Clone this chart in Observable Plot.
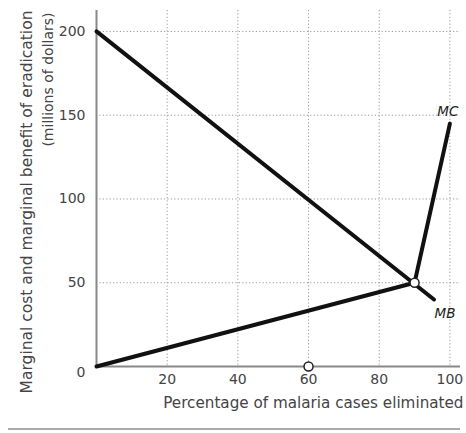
<!DOCTYPE html>
<html>
<head>
<meta charset="utf-8">
<script src="https://cdn.jsdelivr.net/npm/d3@7"></script>
<script src="https://cdn.jsdelivr.net/npm/@observablehq/plot@0.6"></script>
<style>
  body { margin: 0; background: #fff; font-family: "DejaVu Sans", sans-serif; }
  #sep { margin: 2px 0 0 8px; width: 452px; height: 2px; background: #aaa; }
</style>
</head>
<body>
<div id="chart"></div>
<div id="sep"></div>
<script>
// Data
const xTicks = [20, 40, 60, 80, 100];
const yTicks = [0, 50, 100, 150, 200];
const mbX = [0, 95.5];
const mbY = [200, 40];
const mcX = [0, 90, 100];
const mcY = [0, 50, 145];
const pointX = [90, 60];
const pointY = [50, 0];
const yLabel1 = "Marginal cost and marginal benefit of eradication";
const yLabel2 = "(millions of dollars)";
const xLabel = "Percentage of malaria cases eliminated";

const mb = mbX.map((x, i) => ({x, y: mbY[i]}));
const mc = mcX.map((x, i) => ({x, y: mcY[i]}));
const pts = pointX.map((x, i) => ({x, y: pointY[i]}));

const gridStyle = {stroke: "#999", strokeOpacity: 1, strokeDasharray: "1.2,2.2", strokeWidth: 1};
const font = "'DejaVu Sans', sans-serif";

const chart = Plot.plot({
  width: 466,
  height: 426,
  marginLeft: 96,
  marginRight: 6,
  marginTop: 10,
  marginBottom: 60,
  style: {fontFamily: font, color: "#333", background: "#fff"},
  x: {domain: [0, 103], axis: null},
  y: {domain: [0, 212.5], axis: null},
  marks: [
    Plot.gridY(yTicks.filter(d => d > 0), gridStyle),
    Plot.gridX(xTicks, gridStyle),
    Plot.ruleX([0], {stroke: "#888", strokeWidth: 2}),
    Plot.ruleY([0], {stroke: "#888", strokeWidth: 2}),
    Plot.axisY(yTicks.filter(d => d > 0), {label: null, tickSize: 0, tickPadding: 11, fontSize: 14, fill: "#444"}),
    Plot.axisY([0], {label: null, tickSize: 0, tickPadding: 11, dy: 6, fontSize: 14, fill: "#444"}),
    Plot.axisX(xTicks, {label: null, tickSize: 0, tickPadding: 8, fontSize: 14, fill: "#444"}),
    Plot.line(mb, {x: "x", y: "y", stroke: "#111", strokeWidth: 4}),
    Plot.line(mc, {x: "x", y: "y", stroke: "#111", strokeWidth: 4}),
    Plot.dot(pts, {x: "x", y: "y", r: 4.5, fill: "#fff", stroke: "#222", strokeWidth: 1.5}),
    Plot.text([mc[mc.length - 1]], {x: "x", y: "y", text: () => "MC", dx: -2, dy: -12, fontSize: 13.5, fontStyle: "italic", fill: "#222"}),
    Plot.text([mb[mb.length - 1]], {x: "x", y: "y", text: () => "MB", dx: 11, dy: 14, fontSize: 13.5, fontStyle: "italic", fill: "#222"}),
    Plot.text([yLabel1], {frameAnchor: "top-left", dx: -76, dy: 0, rotate: -90, textAnchor: "end", fontSize: 15.5, fill: "#444"}),
    Plot.text([yLabel2], {frameAnchor: "top-left", dx: -53, dy: 2, rotate: -90, textAnchor: "end", fontSize: 14, fill: "#444"}),
    Plot.text([xLabel], {frameAnchor: "bottom-right", dx: 3, dy: 41, textAnchor: "end", fontSize: 15.2, fill: "#444"})
  ]
});
document.getElementById("chart").append(chart);
</script>
</body>
</html>
